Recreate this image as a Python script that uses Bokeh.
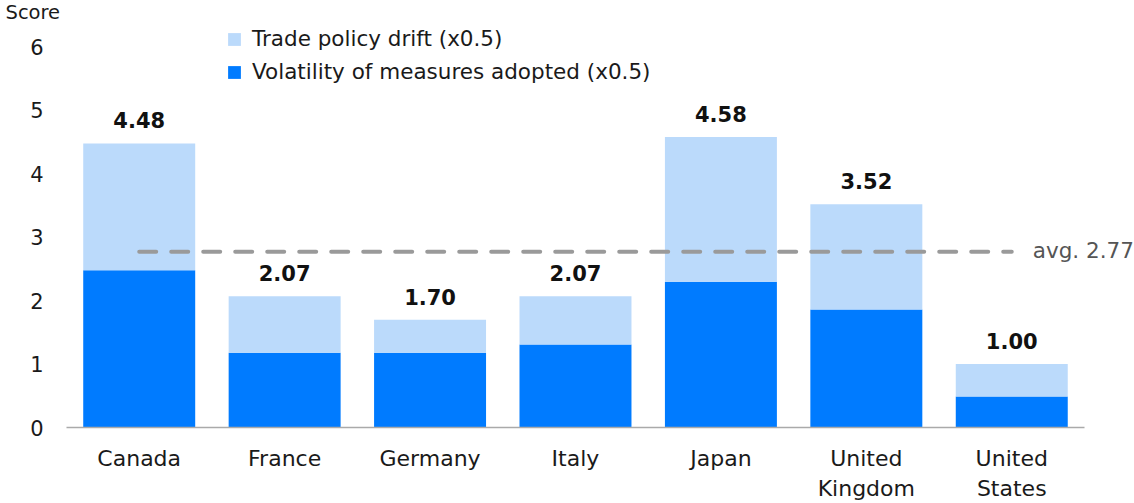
from bokeh.plotting import figure
from bokeh.models import ColumnDataSource, Range1d, Label, Legend, LegendItem, FixedTicker, Title
from bokeh.embed import file_html
from bokeh.resources import INLINE
from bokeh.core.properties import value

# Scores by country (both components already weighted x0.5)
countries = ["Canada", "France", "Germany", "Italy", "Japan", "United\nKingdom", "United\nStates"]
volatility = [2.48, 1.18, 1.18, 1.31, 2.30, 1.86, 0.49]
totals = [4.48, 2.07, 1.70, 2.07, 4.58, 3.52, 1.00]
average = 2.77
y_ticks = [0, 1, 2, 3, 4, 5, 6]

DARK = "#007BFF"
LIGHT = "#BBDAFB"
TEXT = "#1a1a1a"
FONT = "DejaVu Sans"
FS = "21px"

pos = list(range(len(countries)))
drift = [round(t - v, 2) for t, v in zip(totals, volatility)]
src = ColumnDataSource(dict(
    x=pos,
    volatility=volatility,
    total=totals,
    drift=drift,
    label=[f"{t:.2f}" for t in totals],
))

n = len(countries)
p = figure(
    width=1134, height=503,
    x_range=Range1d(-0.5, n - 0.5 + 0.344),
    y_range=Range1d(0, 6.34),
    output_backend="svg", toolbar_location=None,
    min_border_left=66, min_border_right=0, min_border_top=25, min_border_bottom=76,
)
p.outline_line_color = None
p.xgrid.visible = False
p.ygrid.visible = False

p.add_layout(Title(text="Score", align="left", offset=-61, standoff=0,
                   vertical_align="top",
                   text_font=FONT, text_font_size="19.5px", text_font_style="normal",
                   text_color=TEXT), "above")

bar_w = 0.77
dark = p.vbar(x="x", top="volatility", bottom=0, width=bar_w, source=src,
              fill_color=DARK, line_color=None)
light = p.vbar(x="x", top="total", bottom="volatility", width=bar_w, source=src,
               fill_color=LIGHT, line_color=None)

# total value above each stack
p.text(x="x", y="total", text="label", source=src,
       text_align="center", text_baseline="alphabetic", y_offset=-23,
       text_font=value(FONT), text_font_style="bold", text_font_size=FS,
       text_color="#111111")

# average reference line
p.line(x=[pos[0], pos[-1]], y=[average, average],
       line_color="#9a9a9a", line_width=4, line_dash="17 15", line_cap="round")

p.add_layout(Label(x=pos[-1], y=average, x_offset=21, y_offset=1,
                   text=f"avg. {average:.2f}", text_baseline="middle",
                   text_font=FONT, text_font_size="21.5px", text_color="#555555"))

# axes
p.yaxis.ticker = FixedTicker(ticks=y_ticks)
p.yaxis.axis_line_color = None
p.yaxis.major_tick_line_color = None
p.yaxis.minor_tick_line_color = None
p.yaxis.major_label_standoff = 17
p.yaxis.major_label_text_font = FONT
p.yaxis.major_label_text_font_size = FS
p.yaxis.major_label_text_color = TEXT

p.xaxis.ticker = FixedTicker(ticks=pos)
p.xaxis.major_label_overrides = {i: c for i, c in zip(pos, countries)}
p.xaxis.bounds = (-0.5, n - 0.5)
p.xaxis.axis_line_color = "#aaaaaa"
p.xaxis.axis_line_width = 1.5
p.xaxis.major_tick_line_color = None
p.xaxis.minor_tick_line_color = None
p.xaxis.major_tick_out = 0
p.xaxis.major_tick_in = 0
p.xaxis.minor_tick_out = 0
p.xaxis.major_label_standoff = 18
p.xaxis.major_label_text_font = FONT
p.xaxis.major_label_text_font_size = "22px"
p.xaxis.major_label_text_color = TEXT

legend = Legend(
    items=[
        LegendItem(label="Trade policy drift (x0.5)", renderers=[light]),
        LegendItem(label="Volatility of measures adopted (x0.5)", renderers=[dark]),
    ],
    location=(160, 343),
    glyph_width=16, glyph_height=16, label_standoff=10,
    label_text_font=FONT, label_text_font_size="21.5px", label_text_color=TEXT,
    label_height=20, spacing=8, padding=0, margin=0,
    border_line_color=None, background_fill_alpha=0,
)
p.add_layout(legend)

open("out.html", "w").write(file_html(p, INLINE))
